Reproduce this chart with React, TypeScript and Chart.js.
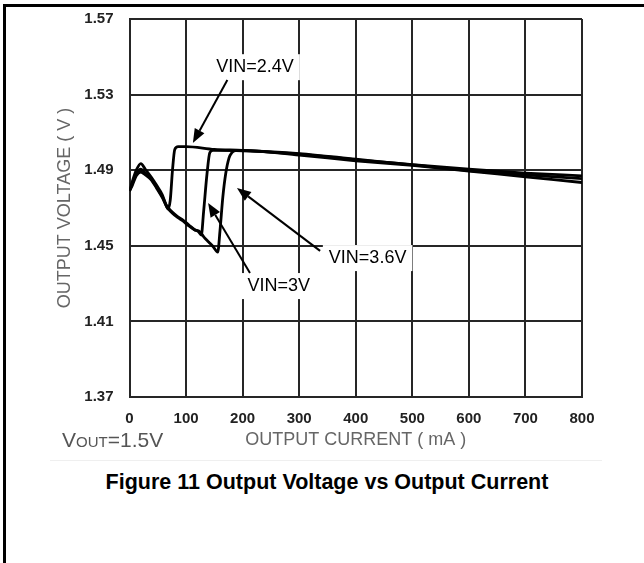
import React, { useEffect, useRef } from "react";
import { Chart, registerables } from "chart.js";

Chart.register(...registerables);

// ---- axis ticks ----
const currentTicks = [0, 100, 200, 300, 400, 500, 600, 700, 800];
const voltageTicks = [1.37, 1.41, 1.45, 1.49, 1.53, 1.57];

// ---- series: output current (mA) vs output voltage (V) ----
const seriesLabels = ["VIN=2.4V", "VIN=3V", "VIN=3.6V"];

const vin24Current = [0, 5, 12, 20, 28, 38, 48, 58, 64, 68, 72, 76, 80, 86, 100, 150, 200, 300, 400, 500, 600, 700, 800];
const vin24Voltage = [1.479, 1.484, 1.490, 1.4935, 1.4905, 1.4865, 1.482, 1.477, 1.472, 1.4695, 1.474, 1.490, 1.501, 1.5025, 1.5025, 1.501, 1.5005, 1.4985, 1.4955, 1.493, 1.4905, 1.4885, 1.487];

const vin3Current = [0, 5, 12, 20, 28, 38, 48, 58, 66, 75, 85, 95, 105, 115, 122, 127, 131, 137, 142, 148, 200, 300, 400, 500, 600, 700, 800];
const vin3Voltage = [1.479, 1.483, 1.488, 1.4905, 1.4885, 1.4855, 1.481, 1.476, 1.471, 1.468, 1.4655, 1.4635, 1.461, 1.4585, 1.4575, 1.4557, 1.468, 1.488, 1.4993, 1.5005, 1.5003, 1.4988, 1.4958, 1.4928, 1.4898, 1.4875, 1.4855];

const vin36Current = [0, 5, 12, 20, 28, 38, 48, 58, 66, 75, 85, 95, 105, 115, 124, 132, 140, 148, 156, 160, 165, 170, 176, 181, 187, 200, 300, 400, 500, 600, 700, 800];
const vin36Voltage = [1.479, 1.482, 1.487, 1.489, 1.4875, 1.485, 1.4805, 1.4755, 1.4705, 1.4675, 1.465, 1.463, 1.4605, 1.4585, 1.4575, 1.4545, 1.452, 1.4495, 1.4467, 1.458, 1.4758, 1.488, 1.4965, 1.4993, 1.5003, 1.5005, 1.498, 1.495, 1.4925, 1.4895, 1.4865, 1.4835];

// ---- annotations (data units) ----
const noteTexts = ["VIN=2.4V", "VIN=3V", "VIN=3.6V"];
const noteCenters = [[222, 1.5445], [264, 1.4287], [421, 1.4435]];
const arrowStarts = [[173, 1.5377], [213, 1.4356], [337, 1.4473]];
const arrowTips = [[112, 1.5044], [139, 1.4727], [190, 1.4806]];

const FONT = '"Liberation Sans", Arial, Helvetica, sans-serif';

const notesPlugin = {
  id: "vinNotes",
  afterDatasetsDraw(chart: any) {
    const { ctx, scales } = chart;
    const xs = scales.x;
    const ys = scales.y;
    ctx.save();
    ctx.font = `18px ${FONT}`;
    noteTexts.forEach((text, i) => {
      const cx = xs.getPixelForValue(noteCenters[i][0]);
      const cy = ys.getPixelForValue(noteCenters[i][1]);
      const w = ctx.measureText(text).width;
      ctx.fillStyle = "#ffffff";
      ctx.fillRect(cx - w / 2 - 6, cy - 13, w + 12, 26);

      const x1 = xs.getPixelForValue(arrowStarts[i][0]);
      const y1 = ys.getPixelForValue(arrowStarts[i][1]);
      const x2 = xs.getPixelForValue(arrowTips[i][0]);
      const y2 = ys.getPixelForValue(arrowTips[i][1]);
      const ang = Math.atan2(y2 - y1, x2 - x1);
      const headLen = 14;
      const headW = 5.5;
      const bx = x2 - headLen * Math.cos(ang);
      const by = y2 - headLen * Math.sin(ang);
      ctx.strokeStyle = "#000";
      ctx.fillStyle = "#000";
      ctx.lineWidth = 2;
      ctx.beginPath();
      ctx.moveTo(x1, y1);
      ctx.lineTo(bx, by);
      ctx.stroke();
      ctx.beginPath();
      ctx.moveTo(x2, y2);
      ctx.lineTo(bx + headW * Math.sin(ang), by - headW * Math.cos(ang));
      ctx.lineTo(bx - headW * Math.sin(ang), by + headW * Math.cos(ang));
      ctx.closePath();
      ctx.fill();

      ctx.textAlign = "center";
      ctx.textBaseline = "middle";
      ctx.fillText(text, cx, cy);
    });
    ctx.restore();
  },
};

function toPoints(xsArr: number[], ysArr: number[]) {
  return xsArr.map((v, i) => ({ x: v, y: ysArr[i] }));
}

export default function App() {
  const canvasRef = useRef<HTMLCanvasElement | null>(null);

  useEffect(() => {
    if (!canvasRef.current) return;
    const gridColor = "#262626";
    const chart = new Chart(canvasRef.current, {
      type: "line",
      data: {
        datasets: [
          { label: seriesLabels[0], data: toPoints(vin24Current, vin24Voltage) },
          { label: seriesLabels[1], data: toPoints(vin3Current, vin3Voltage) },
          { label: seriesLabels[2], data: toPoints(vin36Current, vin36Voltage) },
        ].map((d) => ({
          ...d,
          borderColor: "#000",
          backgroundColor: "#000",
          borderWidth: 2.8,
          pointRadius: 0,
          fill: false,
          cubicInterpolationMode: "monotone" as const,
        })),
      },
      options: {
        responsive: false,
        animation: false,
        events: [],
        layout: { padding: { left: 50, right: 62, top: 19, bottom: 0 } },
        plugins: { legend: { display: false }, tooltip: { enabled: false } },
        scales: {
          x: {
            type: "linear",
            min: 0,
            max: 800,
            afterBuildTicks: (s: any) => {
              s.ticks = currentTicks.map((v) => ({ value: v }));
            },
            afterFit: (s: any) => {
              s.height = 58;
            },
            grid: { color: gridColor, lineWidth: 2, drawTicks: false },
            border: { color: gridColor, width: 2 },
            ticks: {
              color: "#222",
              padding: 13,
              maxRotation: 0,
              font: { family: FONT, size: 15, weight: "bold" },
              callback: (v: any) => String(v),
            },
            title: {
              display: true,
              text: "OUTPUT CURRENT ( mA )",
              color: "#666",
              font: { family: FONT, size: 18 },
              padding: { top: 4, bottom: 4 },
            },
          },
          y: {
            type: "linear",
            min: 1.37,
            max: 1.57,
            afterBuildTicks: (s: any) => {
              s.ticks = voltageTicks.map((v) => ({ value: v }));
            },
            afterFit: (s: any) => {
              s.width = 79.5;
              s.paddingTop = 9;
              s.paddingBottom = 9;
            },
            grid: { color: gridColor, lineWidth: 2, drawTicks: false },
            border: { color: gridColor, width: 2 },
            ticks: {
              color: "#222",
              padding: 16,
              font: { family: FONT, size: 15, weight: "bold" },
              callback: (v: any) => Number(v).toFixed(2),
            },
            title: {
              display: true,
              text: "OUTPUT VOLTAGE ( V )",
              color: "#666",
              font: { family: FONT, size: 18 },
              padding: { top: 4, bottom: 4 },
            },
          },
        },
      },
      plugins: [notesPlugin],
    });
    return () => chart.destroy();
  }, []);

  return (
    <div
      style={{
        position: "absolute",
        left: 0,
        top: 0,
        width: 644,
        height: 563,
        background: "#fff",
        overflow: "hidden",
        fontFamily: FONT,
      }}
    >
      <canvas
        ref={canvasRef}
        width={644}
        height={455}
        style={{ position: "absolute", left: 0, top: 0, width: 644, height: 455 }}
      />
      <div style={{ position: "absolute", left: 3, top: 4, width: 641, height: 3, background: "#000" }} />
      <div style={{ position: "absolute", left: 3, top: 4, width: 3, height: 559, background: "#000" }} />
      <div
        style={{
          position: "absolute",
          left: 62,
          top: 428,
          color: "#555",
          fontSize: 21,
          lineHeight: "24px",
          whiteSpace: "nowrap",
        }}
      >
        V<span style={{ fontSize: 15 }}>OUT</span>=1.5V
      </div>
      <div style={{ position: "absolute", left: 50, top: 460, width: 552, height: 1, background: "#efefef" }} />
      <div
        style={{
          position: "absolute",
          left: 27,
          top: 469,
          width: 600,
          textAlign: "center",
          fontWeight: "bold",
          fontSize: 21.5,
          lineHeight: "26px",
          color: "#000",
          whiteSpace: "nowrap",
        }}
      >
        Figure 11 Output Voltage vs Output Current
      </div>
    </div>
  );
}
